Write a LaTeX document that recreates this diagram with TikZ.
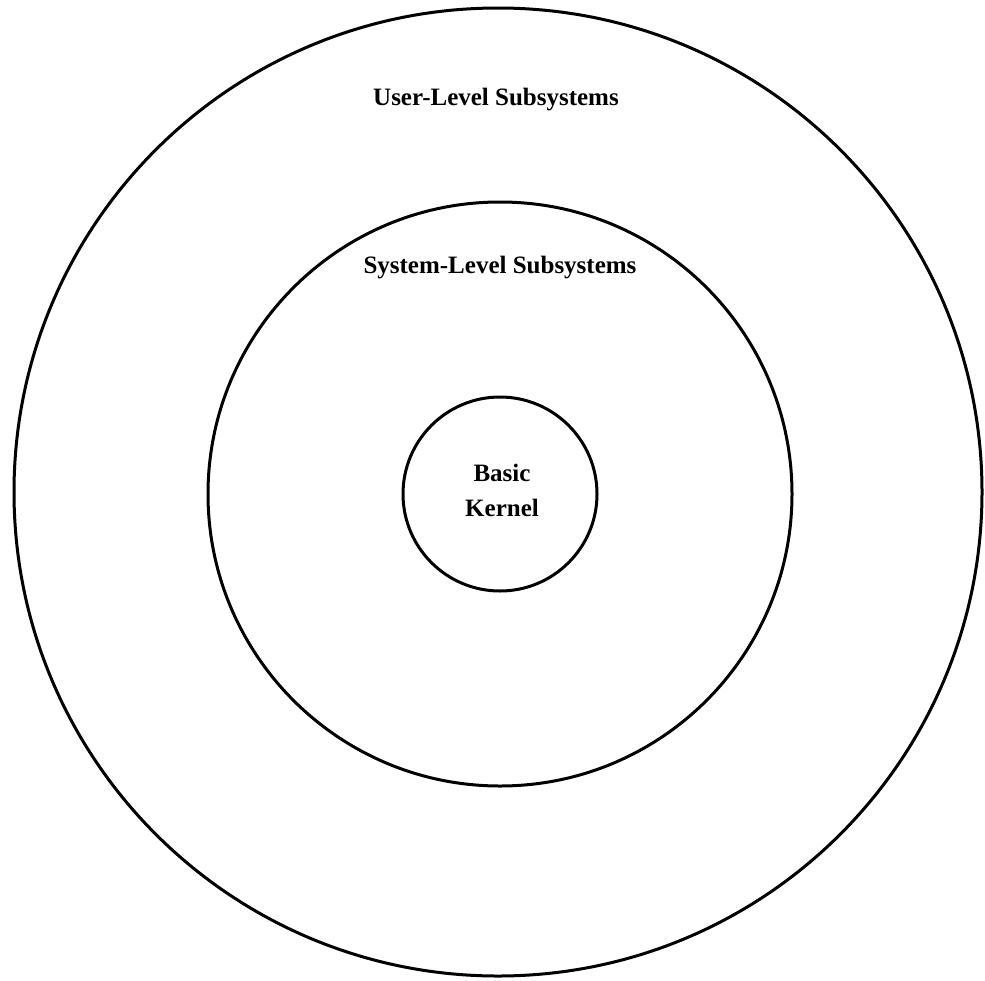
\documentclass[tikz,border=0pt]{standalone}
\usepackage{fontspec}
\setmainfont{Liberation Serif}
\begin{document}
\begin{tikzpicture}[x=1pt,y=-1pt,
  ring/.style={circle,draw=black,line width=3pt,inner sep=0pt},
  lbl/.style={font=\fontsize{25}{35}\selectfont\bfseries,align=center,inner sep=0pt}]
\useasboundingbox[fill=white] (0,0) rectangle (985,980);
\node[ring,minimum size=968pt] (outer) at (498,492) {};
\node[ring,minimum size=584pt] (middle) at (500,494) {};
\node[ring,minimum size=194pt] (inner) at (500,494) {};
\node[lbl] (userlbl) at (496,100) {User-Level Subsystems};
\node[lbl] (syslbl) at (500,268) {System-Level Subsystems};
\node[lbl] (kernlbl) at (502,490) {Basic\\Kernel};
\end{tikzpicture}
\end{document}
